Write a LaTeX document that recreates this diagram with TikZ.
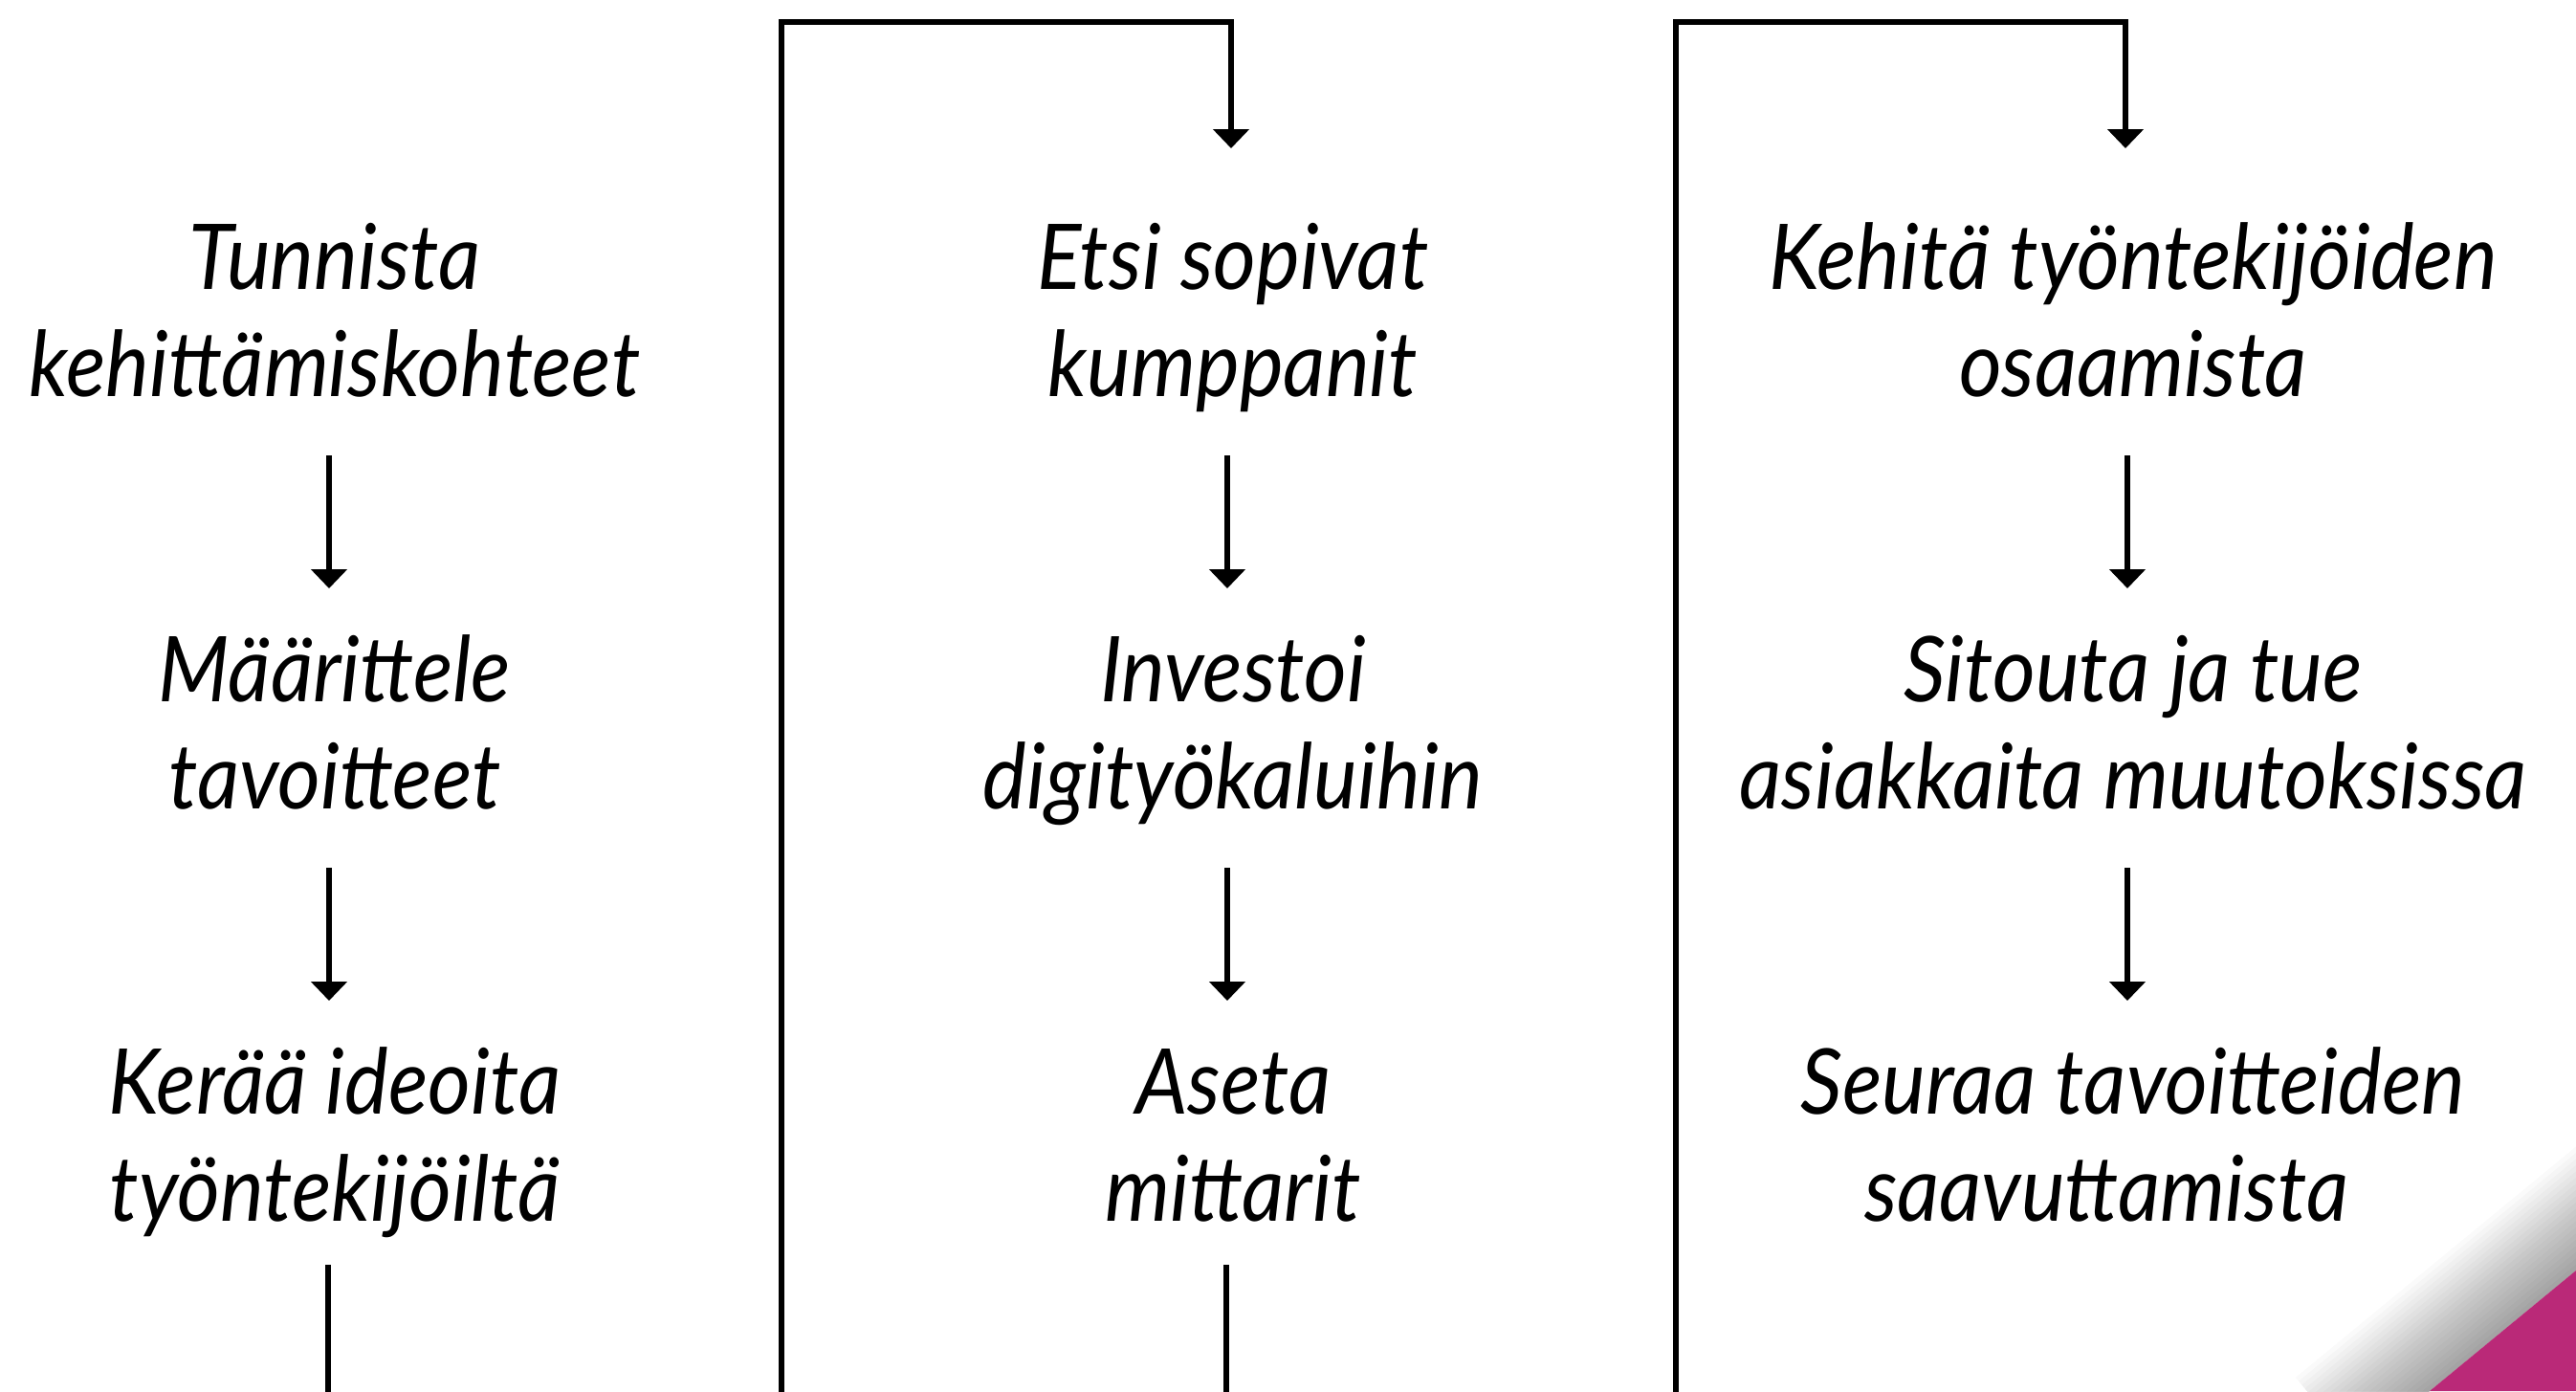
\documentclass[tikz,border=0pt]{standalone}
\usepackage{fontspec}
\setmainfont{Lato}[FakeStretch=0.91]
\usetikzlibrary{arrows.meta,calc}
\tikzset{>={Triangle[width=3.7mm,length=2mm]}}
\usepackage{xcolor}
\definecolor{cornerpink}{RGB}{186,41,120}
\tikzstyle{stepnode}=[inner sep=0pt,anchor=base,align=center,font=\fontsize{27}{31.7}\selectfont\itshape]
\tikzstyle{linkline}=[line width=1.8pt]
\def\W{26.93}
\def\H{14.54}

\begin{document}
\begin{tikzpicture}
  \useasboundingbox (0,0) rectangle (\W,-\H);
  \fill[white] (0,0) rectangle (\W,-\H);

  % STEPS (base = last line)
  \node[stepnode] (t1) at ( 3.50, -4.14) {Tunnista\\kehittämiskohteet};
  \node[stepnode] (t2) at ( 3.50, -8.45) {Määrittele\\tavoitteet};
  \node[stepnode] (t3) at ( 3.50,-12.76) {Kerää ideoita\\työntekijöiltä};
  \node[stepnode] (e1) at (12.89, -4.14) {Etsi sopivat\\kumppanit};
  \node[stepnode] (e2) at (12.89, -8.45) {Investoi\\digityökaluihin};
  \node[stepnode] (e3) at (12.89,-12.76) {Aseta\\mittarit};
  \node[stepnode] (k1) at (22.30, -4.14) {Kehitä työntekijöiden\\osaamista};
  \node[stepnode] (k2) at (22.30, -8.45) {Sitouta ja tue\\asiakkaita muutoksissa};
  \node[stepnode] (k3) at (22.30,-12.76) {Seuraa tavoitteiden\\saavuttamista\hspace*{0.56cm}};

  % ARROWS DOWN A COLUMN
  \foreach \c in {t,e,k}{
    \draw[linkline,->] ([xshift=-0.06cm,yshift=-0.62cm]\c1.base) -- ([xshift=-0.06cm,yshift=2.30cm]\c2.base);
    \draw[linkline,->] ([xshift=-0.06cm,yshift=-0.62cm]\c2.base) -- ([xshift=-0.06cm,yshift=2.30cm]\c3.base);
  }

  % LINES OFF THE BOTTOM
  \coordinate (bot) at (0,-\H-0.1);
  \coordinate (t3b) at ([xshift=-0.07cm,yshift=-0.46cm]t3.base);
  \coordinate (e3b) at ([xshift=-0.07cm,yshift=-0.46cm]e3.base);
  \draw[linkline] (t3b) -- (t3b |- bot);
  \draw[linkline] (e3b) -- (e3b |- bot);

  % RETURN LINES
  \coordinate (g1) at ( 8.17,-\H-0.1);
  \coordinate (g2) at (17.52,-\H-0.1);
  \draw[linkline,->] (g1) -- (8.17,-0.23) -| ([xshift=-0.02cm,yshift=2.59cm]e1.base);
  \draw[linkline,->] (g2) -- (17.52,-0.23) -| ([xshift=-0.08cm,yshift=2.59cm]k1.base);

  % CORNER
  \coordinate (A) at (25.40,-\H);
  \coordinate (B) at (\W,-13.28);
  \begin{scope}
    \clip (0,0) rectangle (\W,-\H);
    \foreach \i in {1,...,20}{
      \fill[black,opacity=0.02]
        ($(A)!-0.5!(B)$) -- ($(B)!-0.5!(A)$)
        -- ++({-0.636*\i/20},{0.772*\i/20})
        -- ($($(A)!-0.5!(B)$)+({-0.636*\i/20},{0.772*\i/20})$) -- cycle;
    }
    \fill[cornerpink] (A) -- (B) -- (\W,-\H) -- cycle;
  \end{scope}
\end{tikzpicture}
\end{document}
